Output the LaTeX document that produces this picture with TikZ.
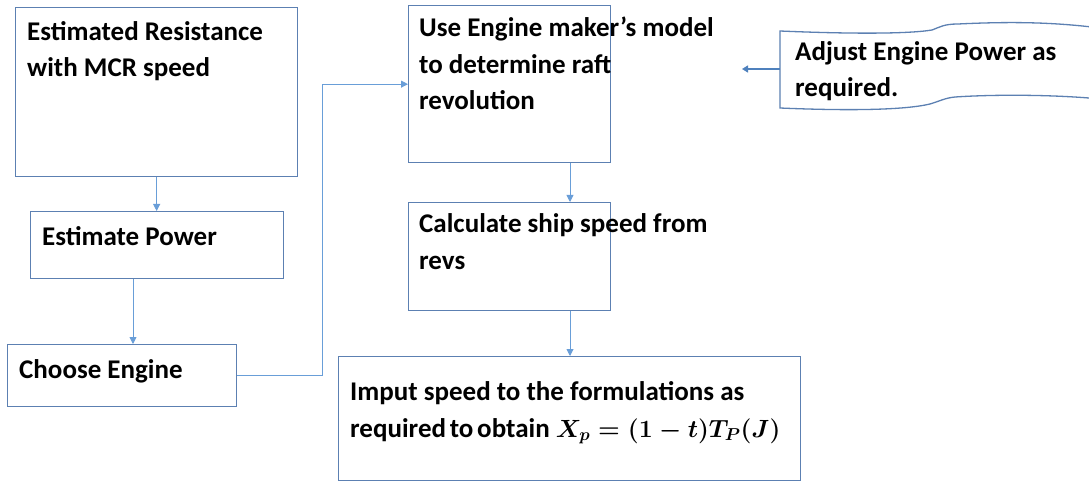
\documentclass[tikz,border=0pt]{standalone}
\usepackage{amsmath}
\usepackage[no-math]{fontspec}
\setmainfont{Carlito}
\usetikzlibrary{arrows.meta}
\definecolor{boxc}{RGB}{92,128,178}
\definecolor{arrc}{RGB}{105,158,216}
\definecolor{thickc}{RGB}{79,129,189}
\begin{document}
\begin{tikzpicture}[x=1pt,y=-1pt,
  box/.style={draw=boxc,line width=1.3pt,inner sep=0pt,anchor=north west,fill=white},
  txt/.style={font=\fontsize{27}{36.5}\selectfont\bfseries,align=left,inner sep=0pt,anchor=base west},
  arr/.style={draw=arrc,line width=0.9pt,-{Triangle[length=7pt,width=7pt]}},
  thickarr/.style={draw=thickc,line width=2.4pt,-{Triangle[length=6pt,width=7pt]}}]
\useasboundingbox (0,0) rectangle (1089,481);
\fill[white] (0,0) rectangle (1089,481);
% boxes
\node[box,minimum width=282pt,minimum height=169pt] (A) at (15,7) {};
\node[box,minimum width=253pt,minimum height=67pt] (B) at (30,211) {};
\node[box,minimum width=229pt,minimum height=62pt] (C) at (7,344) {};
\node[box,minimum width=202pt,minimum height=157pt] (D) at (408,5) {};
\node[box,minimum width=202pt,minimum height=108pt] (E) at (408,202) {};
\node[box,minimum width=462pt,minimum height=124pt] (F) at (338,356) {};
% wave shape
\begin{scope}
\clip (0,0) rectangle (1089,481);
\draw[boxc,line width=1.3pt,fill=white]
  (780,31) .. controls (850,34) and (908,34) .. (932,30)
  .. controls (940,27) and (944,24) .. (958,24)
  .. controls (1020,21) and (1060,23) .. (1100,28)
  -- (1100,99)
  .. controls (1060,95) and (1000,94) .. (955,97)
  .. controls (945,98) and (940,101) .. (930,104)
  .. controls (905,110) and (850,111) .. (780,108) -- cycle;
\end{scope}
\coordinate (G) at (780,69);
\coordinate (Gt) at (742,69);
% texts (anchored at the baseline of their last line)
\node[txt] (tA) at (27,77) {Estimated Resistance\\with MCR speed};
\node[txt] (tB) at (42,245) {Estimate Power};
\node[txt] (tC) at (19,378) {Choose Engine};
\node[txt] (tD) at (419,110) {Use Engine maker’s model\\to determine raft\\revolution};
\node[txt] (tE) at (419,269) {Calculate ship speed from\\revs};
\node[txt] (tF) at (350,437) {Imput speed to the formulations as\\{\spaceskip=0.14em required to obtain} {\boldmath$X_p=(1-t)T_P(J)$}};
\node[txt] (tG) at (795,97) {Adjust Engine Power as\\required.};
% connectors
\draw[arr] (A.south) -- (A.south |- B.north);
\draw[arr] ([xshift=126pt]C.north west |- B.south) -- ([xshift=126pt]C.north west);
\coordinate (k) at (322,0);
\draw[arr] (C.east) -| (k |- D.west) -- (D.west);
\draw[arr] ([xshift=162pt]D.south west) -- ([xshift=162pt]E.north west);
\draw[arr] ([xshift=162pt]E.south west) -- ([xshift=162pt]E.south west |- F.north);
\draw[thickarr] (G) -- (Gt);
\end{tikzpicture}
\end{document}
